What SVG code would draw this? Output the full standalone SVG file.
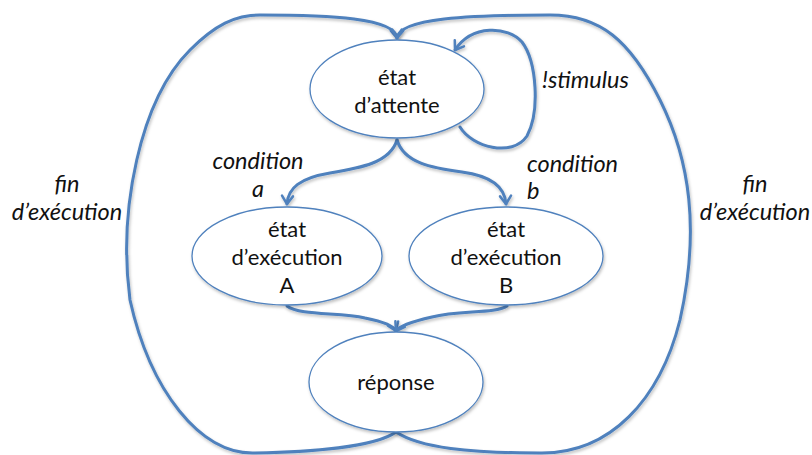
<svg xmlns="http://www.w3.org/2000/svg" width="812" height="455" viewBox="0 0 812 455">
  <style>
    .node { fill: #ffffff; stroke: #4f81bd; stroke-width: 1.3; filter: url(#shadow); }
    .edge { fill: none; stroke: #4f81bd; stroke-width: 3; stroke-linecap: round; stroke-linejoin: round; filter: url(#shadow); }
    .txt { font-family: Lato, "Open Sans", "Liberation Sans", sans-serif; font-size: 22px; fill: #111111; text-anchor: middle; }
    .lbl { font-family: Lato, "Open Sans", "Liberation Sans", sans-serif; font-size: 23.5px; font-style: italic; fill: #111111; }
  </style>
  <defs>
    <filter id="shadow" x="-20%" y="-20%" width="140%" height="140%">
      <feDropShadow dx="1" dy="2" stdDeviation="1.5" flood-color="#000000" flood-opacity="0.25"/>
    </filter>
    <marker id="arrow" markerUnits="userSpaceOnUse" markerWidth="16" markerHeight="16" refX="0" refY="0" viewBox="-10 -8 12 16" orient="auto">
      <path d="M -8 -5.5 L 0 0 L -8 5.5" fill="none" stroke="#4f81bd" stroke-width="2.5" stroke-linecap="round" stroke-linejoin="round"/>
    </marker>
  </defs>

  <rect width="812" height="455" fill="#ffffff"/>

  <!-- transitions -->
  <g id="connectors">
    <!-- fin d'exécution, left side -->
    <path class="edge" marker-end="url(#arrow)" d="M 396 432 C 375 447, 310 452, 255 453 C 200 455, 150 390, 130 300 C 118 210, 140 100, 190 50 C 215 25, 235 15, 260 15 C 330 15, 395 18, 397 38"/>
    <!-- fin d'exécution, right side -->
    <path class="edge" marker-end="url(#arrow)" d="M 396 432 C 420 448, 470 453, 540 453 C 610 454, 660 400, 680 320 C 700 230, 690 160, 660 100 C 630 40, 600 15, 550 15 C 470 15, 399 18, 397 38"/>
    <!-- !stimulus self loop -->
    <path class="edge" marker-end="url(#arrow)" d="M 460 127 C 472 147, 512 158, 527 136 C 540 112, 537 62, 522 42 C 508 26, 472 24, 455 50"/>
    <!-- condition a -->
    <path class="edge" marker-end="url(#arrow)" d="M 397 140 C 390 163, 360 168, 330 173 C 300 178, 288 188, 287 204"/>
    <!-- condition b -->
    <path class="edge" marker-end="url(#arrow)" d="M 397 140 C 404 163, 432 168, 462 172 C 492 176, 505 188, 506 204"/>
    <!-- A to réponse -->
    <path class="edge" marker-end="url(#arrow)" d="M 287 306 C 300 316, 340 312, 365 318 C 385 322, 394 326, 396 331"/>
    <!-- B to réponse -->
    <path class="edge" marker-end="url(#arrow)" d="M 507 306 C 495 314, 460 310, 432 317 C 410 322, 399 326, 396 331"/>
  </g>

  <g id="attente">
    <ellipse class="node" cx="397" cy="89" rx="87" ry="49"/>
    <text class="txt" x="397" y="85">état</text>
    <text class="txt" x="397" y="113">d’attente</text>
  </g>

  <g id="execution-a">
    <ellipse class="node" cx="287" cy="256" rx="95" ry="49"/>
    <text class="txt" x="287" y="237">état</text>
    <text class="txt" x="287" y="265">d’exécution</text>
    <text class="txt" x="287" y="293">A</text>
  </g>

  <g id="execution-b">
    <ellipse class="node" cx="506" cy="256" rx="97" ry="49"/>
    <text class="txt" x="506" y="237">état</text>
    <text class="txt" x="506" y="265">d’exécution</text>
    <text class="txt" x="506" y="293">B</text>
  </g>

  <g id="reponse">
    <ellipse class="node" cx="396" cy="382" rx="87" ry="50"/>
    <text class="txt" x="396" y="390">réponse</text>
  </g>

  <!-- transition labels -->
  <g id="labels">
    <text class="lbl" x="542" y="88">!stimulus</text>
    <text class="lbl" x="258" y="169" text-anchor="middle">condition</text>
    <text class="lbl" x="258" y="197" text-anchor="middle">a</text>
    <text class="lbl" x="527" y="172">condition</text>
    <text class="lbl" x="527" y="199">b</text>
    <text class="lbl" x="67" y="192" text-anchor="middle">fin</text>
    <text class="lbl" x="67" y="220" text-anchor="middle">d’exécution</text>
    <text class="lbl" x="755" y="192" text-anchor="middle">fin</text>
    <text class="lbl" x="755" y="220" text-anchor="middle">d’exécution</text>
  </g>
</svg>
